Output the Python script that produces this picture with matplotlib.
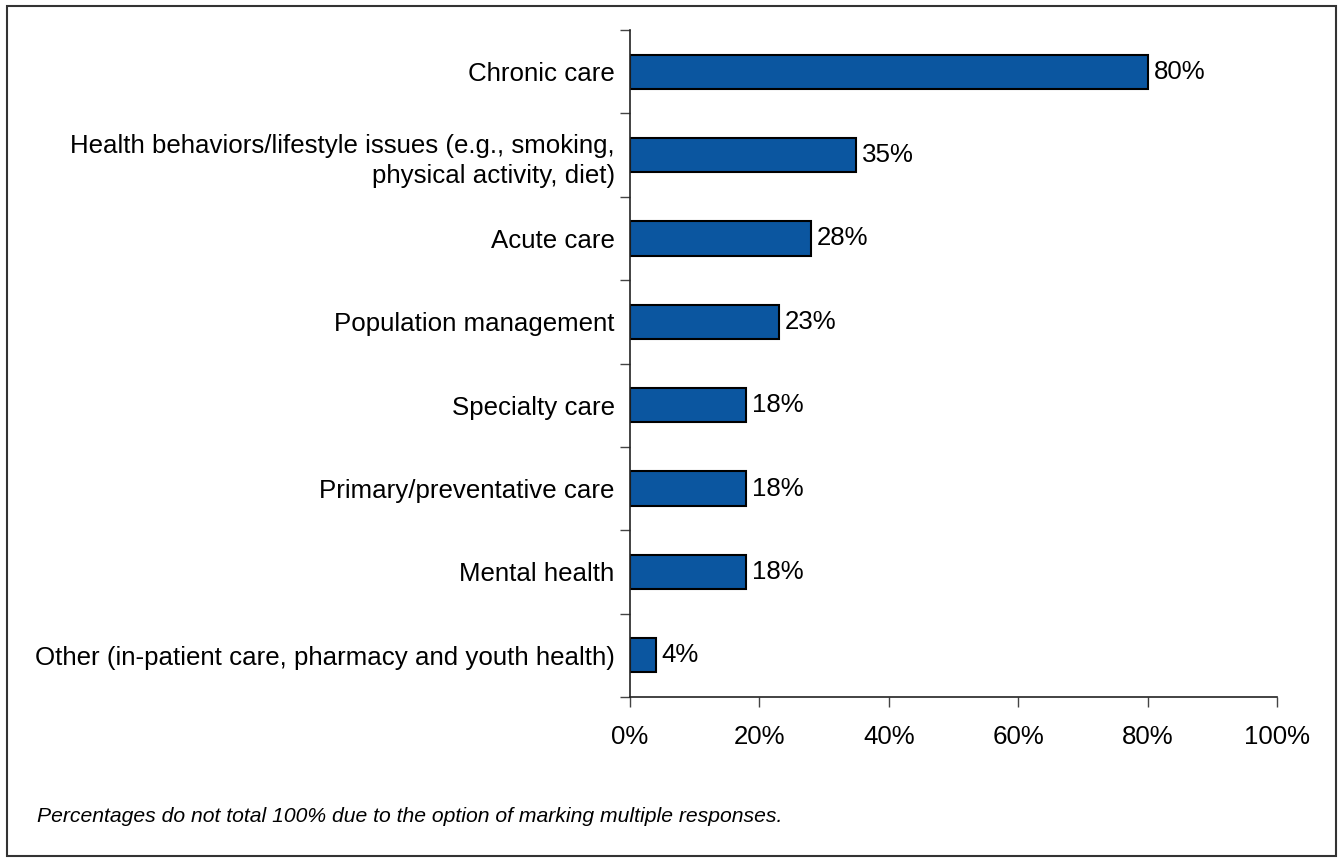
import matplotlib.pyplot as plt
from matplotlib.patches import Rectangle
from matplotlib.ticker import FixedLocator, NullFormatter

categories = [
    "Chronic care",
    "Health behaviors/lifestyle issues (e.g., smoking,\nphysical activity, diet)",
    "Acute care",
    "Population management",
    "Specialty care",
    "Primary/preventative care",
    "Mental health",
    "Other (in-patient care, pharmacy and youth health)",
]
values = [80, 35, 28, 23, 18, 18, 18, 4]
xticks = [0, 20, 40, 60, 80, 100]

plt.rcParams['font.family'] = ['Liberation Sans', 'DejaVu Sans']
plt.rcParams['font.size'] = 18.6

fig = plt.figure(figsize=(13.4, 8.61), dpi=100)
ax = fig.add_axes([630 / 1340, 1 - 697 / 861, 647 / 1340, 667 / 861])

n = len(categories)
ypos = list(range(n))
ax.barh(ypos, values, height=0.41, color='#0B56A0', edgecolor='black', linewidth=1.5)
for y, v in zip(ypos, values):
    ax.text(v + 0.9, y, f"{v}%", va='center', ha='left')

ax.set_ylim(n - 0.5, -0.5)
ax.set_xlim(0, 100)
ax.set_yticks(ypos)
ax.set_yticklabels(categories, ha='right', multialignment='right', linespacing=1.35)
ax.tick_params(axis='y', which='major', length=0, pad=11)
ax.yaxis.set_minor_locator(FixedLocator([i - 0.5 for i in range(n + 1)]))
ax.yaxis.set_minor_formatter(NullFormatter())
ax.tick_params(axis='y', which='minor', length=7, width=1, color='#444444')
ax.set_xticks(xticks)
ax.set_xticklabels([f"{t}%" for t in xticks])
ax.tick_params(axis='x', length=7, width=1, color='#444444', pad=13)

for s in ['top', 'right']:
    ax.spines[s].set_visible(False)
for s in ['left', 'bottom']:
    ax.spines[s].set_color('#222222')
    ax.spines[s].set_linewidth(1.2)

fig.text(37 / 1340, 1 - 817 / 861, "Percentages do not total 100% due to the option of marking multiple responses.",
         style='italic', va='center', ha='left', fontsize=15.2)

fig.patches.append(Rectangle((7 / 1340, 5 / 861), 1329 / 1340, 850 / 861, transform=fig.transFigure,
                             fill=False, edgecolor='#333333', linewidth=1.5))

fig.savefig('out.png', dpi=100)
